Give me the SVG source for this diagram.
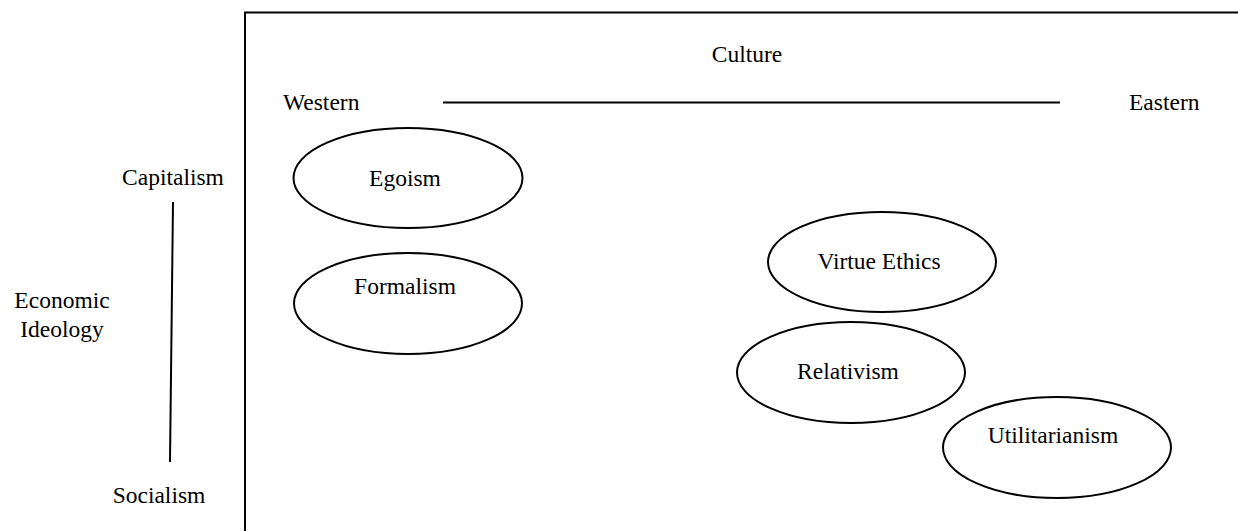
<svg xmlns="http://www.w3.org/2000/svg" width="1238" height="531" viewBox="0 0 1238 531">
<style>
text{font-family:"Liberation Serif","Times New Roman",serif;font-size:23.5px;fill:#000}
.c{text-anchor:middle}
.n ellipse{fill:none;stroke:#000;stroke-width:2}
.ln{stroke:#000;stroke-width:2;fill:none}
</style>
<rect width="1238" height="531" fill="#fff"/>
<g id="frame">
<path class="ln" d="M245 531 V12.5 H1240"/>
</g>
<g id="axes">
<line class="ln" x1="443" y1="102.5" x2="1060" y2="102.5"/>
<line class="ln" x1="173" y1="202" x2="170" y2="462"/>
</g>
<g id="labels">
<text class="c" x="747" y="62">Culture</text>
<text x="283" y="110">Western</text>
<text x="1129" y="110">Eastern</text>
<text class="c" x="173" y="185">Capitalism</text>
<text class="c" x="62" y="308">Economic</text>
<text class="c" x="62" y="337">Ideology</text>
<text class="c" x="159" y="503">Socialism</text>
</g>
<g id="egoism" class="n"><ellipse cx="408" cy="178" rx="114.5" ry="50"/><text class="c" x="405" y="186">Egoism</text></g>
<g id="formalism" class="n"><ellipse cx="408" cy="303.5" rx="114" ry="50.5"/><text class="c" x="405" y="294">Formalism</text></g>
<g id="virtue-ethics" class="n"><ellipse cx="882" cy="262" rx="114" ry="50"/><text class="c" x="879" y="269">Virtue Ethics</text></g>
<g id="relativism" class="n"><ellipse cx="851" cy="372.5" rx="114" ry="50.5"/><text class="c" x="848" y="379">Relativism</text></g>
<g id="utilitarianism" class="n"><ellipse cx="1057" cy="447.5" rx="114" ry="50.5"/><text class="c" x="1053" y="443">Utilitarianism</text></g>
</svg>
